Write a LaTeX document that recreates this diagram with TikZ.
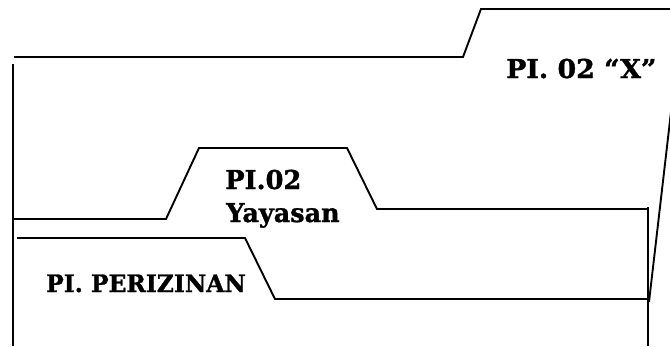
\documentclass[tikz,border=0pt]{standalone}
\usepackage{fontspec}
\newfontfamily\labelfont[BoldFeatures={FakeBold=1.2}]{DejaVu Serif}
\begin{document}
\begin{tikzpicture}[x=1pt,y=-1pt,
  edge/.style={line width=1.9pt,line cap=butt,line join=miter},
  tablabel/.style={anchor=base west,inner sep=0pt,font=\labelfont\bfseries\fontsize{26}{30}\selectfont},
  smalllabel/.style={anchor=base west,inner sep=0pt,font=\labelfont\bfseries\fontsize{24}{28}\selectfont}]
\useasboundingbox (0,0) rectangle (670,346);
% back folder
\draw[edge] (13,64) -- (13,346);
\draw[edge] (14,57) -- (463,57) -- (481,9) -- (672,9);
\draw[edge] (671,112) -- (649,302);
% middle folder
\draw[edge] (13,219) -- (166,219) -- (199,148) -- (347,148) -- (377,209) -- (648,209);
\draw[edge] (648,207) -- (648,346);
% front folder
\draw[edge] (17,238) -- (245,238) -- (275,299) -- (648,299);
% labels
\node[tablabel] (x) at (506,78) {\scalebox{1.03}[1]{PI. 02 “X”}};
\node[tablabel] (pi) at (225,189) {\scalebox{0.99}[1]{PI.02}};
\node[tablabel] (yay) at (226,222) {\scalebox{0.98}[1]{Yayasan}};
\node[smalllabel] (per) at (46,292) {\scalebox{0.975}[1]{PI. PERIZINAN}};
\end{tikzpicture}
\end{document}
